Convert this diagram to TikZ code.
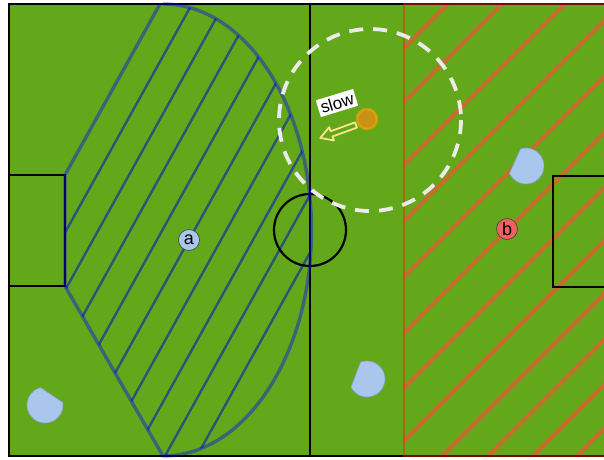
\documentclass[tikz,border=0pt]{standalone}
\usepackage{fontspec}
\setsansfont{Liberation Sans}
\usetikzlibrary{positioning}

\definecolor{fieldgreen}{RGB}{99,168,27}
\definecolor{hatchblue}{RGB}{44,84,120}
\definecolor{hatchred}{RGB}{200,108,46}
\definecolor{playerblue}{RGB}{170,198,236}
\definecolor{playeredge}{RGB}{130,160,205}
\definecolor{robota}{RGB}{170,198,236}
\definecolor{robotb}{RGB}{240,98,98}
\definecolor{ballorange}{RGB}{200,146,22}
\definecolor{arrowyellow}{RGB}{250,228,140}

\begin{document}
\begin{tikzpicture}[x=1pt, y=-1pt,
  fieldline/.style={line width=2.2pt, black},
  zoneA/.style={draw=blue, draw opacity=0.4, line width=3.4pt},
  zoneB/.style={draw=red!80!orange, draw opacity=0.45, line width=2pt},
  hatchA/.style={line width=2.4pt, hatchblue},
  hatchB/.style={line width=4pt, hatchred},
  player/.style={fill=playerblue, draw=playeredge, line width=0.6pt},
  robot/.style={draw=black!75, circle, minimum size=21pt, inner sep=0pt, line width=0.6pt, font=\sffamily\fontsize{18}{18}\selectfont},
  reach/.style={draw=white!92!black, line width=3.8pt, dash pattern=on 14pt off 10pt},
  slowbox/.style={fill=white, inner sep=2.5pt, font=\sffamily\fontsize{17}{17}\selectfont}
]
\useasboundingbox (0,0) rectangle (604,459);
\clip (0,0) rectangle (604,459);

% Field
\fill[fieldgreen] (9,4) rectangle (620,456);

% Zone b (red hatch)
\begin{scope}
  \clip (404,4) rectangle (620,456);
  \foreach \c in {452,506,569,625,681,737,792,845,898,944,989,1033,1078}
    \draw[hatchB] (\c,0) -- ({\c-470},470);
\end{scope}

% Zone a (blue hatch)
\begin{scope}
  \clip (160,4) -- (65,175) -- (65,286) -- (163,456)
    arc[start angle=90, end angle=-90, x radius=148.5, y radius=226] -- cycle;
  \foreach \k in {1,...,9}
    \draw[hatchA] ({-91+32*\k-10},474) -- ({-91+32*\k+261},-14);
\end{scope}

% Field lines
\draw[fieldline, line width=2.6pt] (9,4) rectangle (620,456);
\draw[fieldline] (310,4) -- (310,456);
\draw[fieldline] (310,230) circle[radius=36];
\draw[fieldline] (9,175) rectangle (65,286);
\draw[fieldline] (553,176) rectangle (620,287);

% Zone outlines
\draw[zoneA] (160,4) -- (65,175) -- (65,286) -- (163,456)
  arc[start angle=90, end angle=-90, x radius=148.5, y radius=226];
\draw[zoneB] (404,4) rectangle (620,456);

% Reach of the ball
\draw[reach] (370,120) circle[radius=91];

% Ball and slow arrow
\node[circle, fill=ballorange, draw=orange!70!yellow, draw opacity=0.6, line width=2.4pt, minimum size=20pt, inner sep=0pt] (ball) at (367,119) {};
\coordinate (slowtail) at (356,125);
\begin{scope}[shift={(slowtail)}, rotate=199.9]
  \draw[arrowyellow, line width=1.8pt, line join=round]
    (0,-2.8) -- (26,-2.8) -- (26,-7) -- (38,0) -- (26,7) -- (26,2.8) -- (0,2.8) -- cycle;
\end{scope}
\node[slowbox, rotate=17] (slow) at (337,103) {slow};

% Players
\foreach \cx/\cy/\dir in {526/166/155.5, 45/405/56, 367/379/159}
  \draw[player] (\cx,\cy) ++({-\dir+48}:18)
    arc[start angle={-\dir+48}, end angle={-\dir+312}, radius=18] -- cycle;

% Robots
\node[robot, fill=robota] (a) at (189,240) {a};
\node[robot, fill=robotb] (b) at (507,229) {b};

\end{tikzpicture}
\end{document}
